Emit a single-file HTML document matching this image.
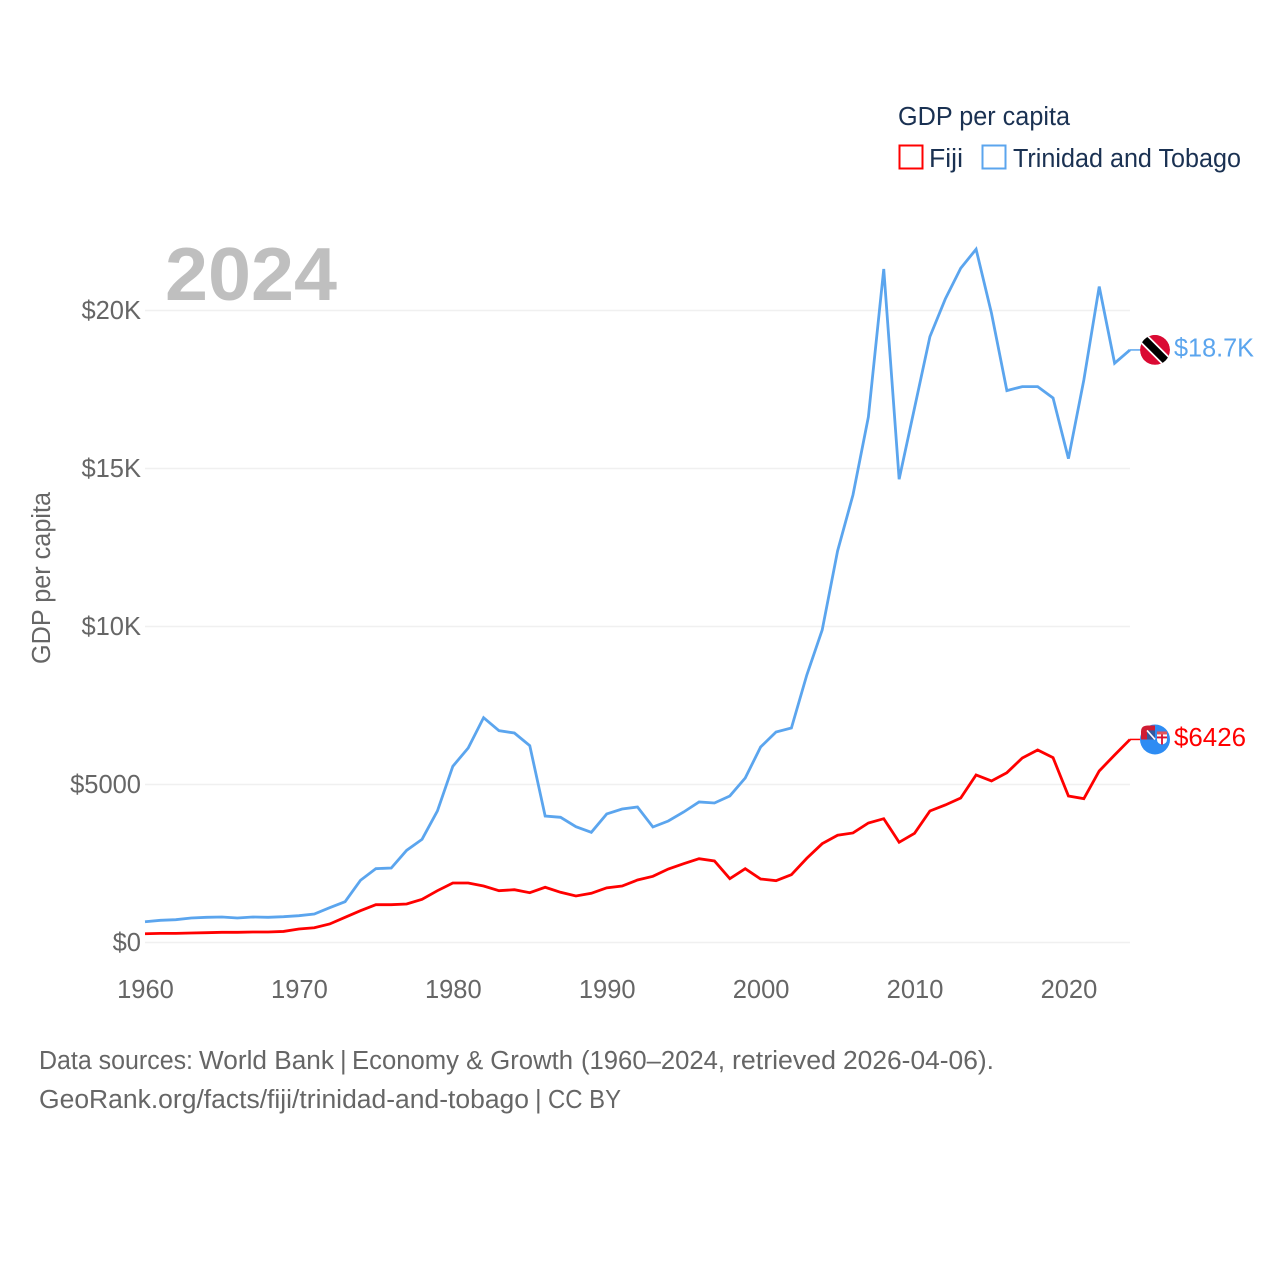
<!DOCTYPE html>
<html lang="en">
<head>
<meta charset="utf-8">
<title>GDP per capita: Fiji and Trinidad and Tobago</title>
<style>
html,body{margin:0;padding:0;background:#fff;}
svg{display:block;font-family:"Liberation Sans",Arial,sans-serif;}
.tick{font-size:25.5px;fill:#666;}
.legend{font-size:25.5px;fill:#1a3152;}
.foot{font-size:25.5px;fill:#666;}
</style>
</head>
<body>
<svg id="chart" width="1280" height="1280" viewBox="0 0 1280 1280" xmlns="http://www.w3.org/2000/svg">
  <rect width="1280" height="1280" fill="#fff"/>
  <g id="grid"></g>
  <text x="165" y="300" font-size="75" font-weight="700" fill="#bfbfbf" textLength="172" lengthAdjust="spacingAndGlyphs">2024</text>
  <g id="yticks"></g>
  <g id="xticks"></g>
  <text class="tick" transform="translate(50,664) rotate(-90)" textLength="172" lengthAdjust="spacingAndGlyphs">GDP per capita</text>
  <g id="series"></g>
  <g id="flags"></g>

  <g>
    <text class="legend" x="898" y="125" textLength="172" lengthAdjust="spacingAndGlyphs">GDP per capita</text>
    <rect x="899.5" y="145.5" width="23" height="23" fill="none" stroke="#ff0000" stroke-width="2"/>
    <text class="legend" x="929" y="167" textLength="34" lengthAdjust="spacingAndGlyphs">Fiji</text>
    <rect x="982.5" y="145.5" width="23" height="23" fill="none" stroke="#5ba5ee" stroke-width="2"/>
    <text class="legend" x="1013" y="167" textLength="228" lengthAdjust="spacingAndGlyphs">Trinidad and Tobago</text>
  </g>

  <g>
    <text class="foot" x="39" y="1069" textLength="154" lengthAdjust="spacingAndGlyphs">Data sources:</text>
    <text class="foot" x="199" y="1069" textLength="135" lengthAdjust="spacingAndGlyphs">World Bank</text>
    <text class="foot" x="340" y="1069">|</text>
    <text class="foot" x="352" y="1069" textLength="221" lengthAdjust="spacingAndGlyphs">Economy &amp; Growth</text>
    <text class="foot" x="581" y="1069" textLength="144" lengthAdjust="spacingAndGlyphs">(1960–2024,</text>
    <text class="foot" x="732" y="1069" textLength="104" lengthAdjust="spacingAndGlyphs">retrieved</text>
    <text class="foot" x="843" y="1069" textLength="151" lengthAdjust="spacingAndGlyphs">2026-04-06).</text>
  </g>
  <g>
    <text class="foot" x="39" y="1108" textLength="490" lengthAdjust="spacingAndGlyphs">GeoRank.org/facts/fiji/trinidad-and-tobago</text>
    <text class="foot" x="535" y="1108">|</text>
    <text class="foot" x="548" y="1108" textLength="73" lengthAdjust="spacingAndGlyphs">CC BY</text>
  </g>
</svg>

<script>
var startYear = 1960;
var xTickValues = [1960, 1970, 1980, 1990, 2000, 2010, 2020];
var yTickValues = [0, 5000, 10000, 15000, 20000];
var yTickLabels = ["$0", "$5000", "$10K", "$15K", "$20K"];

var fijiValues = [278,290,290,300,310,322,322,332,332,350,427,468,586,797,1006,1196,1196,1218,1367,1640,1883,1883,1788,1640,1671,1576,1747,1589,1472,1557,1730,1788,1978,2095,2326,2494,2652,2580,2019,2336,2010,1956,2146,2665,3127,3393,3466,3782,3918,3171,3456,4162,4352,4573,5301,5111,5374,5839,6093,5849,4637,4551,5428,5934,6426];
var trinidadValues = [658,702,722,775,797,807,775,807,797,817,848,902,1102,1292,1968,2336,2358,2917,3265,4162,5576,6155,7115,6703,6630,6230,4003,3962,3665,3487,4067,4225,4288,3655,3845,4130,4447,4415,4637,5206,6187,6662,6788,8465,9890,12390,14163,16630,21314,14660,16917,19173,20366,21338,21940,19914,17465,17591,17591,17233,15312,17800,20757,18332,18752];
var fijiLabel = "$6426";
var trinidadLabel = "$18.7K";

var NS = "http://www.w3.org/2000/svg";
var plotLeft = 145, plotRight = 1130, plotBottom = 942.5, pxPerYear = (plotRight - plotLeft) / 64, pxPerUnit = 158 / 5000;
function xScale(year) { return plotLeft + (year - startYear) * pxPerYear; }
function yScale(value) { return plotBottom - value * pxPerUnit; }
function make(tag, attrs, parent) {
  var el = document.createElementNS(NS, tag);
  for (var k in attrs) el.setAttribute(k, attrs[k]);
  parent.appendChild(el);
  return el;
}

var gridG = document.getElementById("grid");
var yG = document.getElementById("yticks");
var xG = document.getElementById("xticks");
var seriesG = document.getElementById("series");
var flagsG = document.getElementById("flags");

yTickValues.forEach(function (v, i) {
  var line = make("line", {x1: plotLeft, x2: plotRight, y1: yScale(v), y2: yScale(v), stroke: "#f0f0f0", "stroke-width": 1.6}, gridG);
  
  
  var t = make("text", {x: 141, y: yScale(v) + 8.5, "text-anchor": "end", "class": "tick"}, yG);
  t.textContent = yTickLabels[i];
  
  
});

xTickValues.forEach(function (yr) {
  var t = make("text", {x: xScale(yr) + 0.5, y: 998, "text-anchor": "middle", "class": "tick"}, xG);
  t.textContent = String(yr);
  
  
});

function linePoints(values) {
  return values.map(function (v, i) {
    return xScale(startYear + i).toFixed(2) + "," + yScale(v).toFixed(2);
  }).join(" ");
}

var lineFiji = make("polyline", {points: linePoints(fijiValues), fill: "none", stroke: "#ff0000", "stroke-width": 2.8, "stroke-linejoin": "miter"}, seriesG);


var lineTT = make("polyline", {points: linePoints(trinidadValues), fill: "none", stroke: "#5ba5ee", "stroke-width": 2.8, "stroke-linejoin": "miter"}, seriesG);



var lastFijiY = yScale(fijiValues[fijiValues.length - 1]);
var lastTTY = yScale(trinidadValues[trinidadValues.length - 1]);

var connF = make("line", {x1: plotRight, x2: 1140, y1: lastFijiY, y2: lastFijiY, stroke: "#ff0000", "stroke-width": 1.5}, seriesG);


var connT = make("line", {x1: plotRight, x2: 1140, y1: lastTTY, y2: lastTTY, stroke: "#5ba5ee", "stroke-width": 1.5}, seriesG);



/* Trinidad and Tobago flag */
var ttFlag = make("g", {transform: "translate(1155," + lastTTY + ")"}, flagsG);


var defs = make("defs", {}, ttFlag);
var clip = make("clipPath", {id: "ttClip"}, defs);
make("circle", {r: 15}, clip);
var ttInner = make("g", {"clip-path": "url(#ttClip)"}, ttFlag);
make("circle", {r: 15, fill: "#da0a33"}, ttInner);
make("line", {x1: -16, y1: -16, x2: 16, y2: 16, stroke: "#ffffff", "stroke-width": 11}, ttInner);
make("line", {x1: -16, y1: -16, x2: 16, y2: 16, stroke: "#000000", "stroke-width": 7.5}, ttInner);

/* Fiji flag */
var fjFlag = make("g", {transform: "translate(1155," + lastFijiY + ")"}, flagsG);


make("circle", {r: 15, fill: "#2e8cf3"}, fjFlag);
make("path", {d: "M-14,0 V-8 Q-14,-14 -7,-14 H0 V0 Z", fill: "#d01c34"}, fjFlag);
make("rect", {x: -8, y: -9, width: 8, height: 9, fill: "#35589f"}, fjFlag);
make("path", {d: "M-8,-9 L0,0", stroke: "#ffffff", "stroke-width": 1.6}, fjFlag);
make("path", {d: "M2,-8 H12 V0 Q12,4 7,5 Q2,4 2,0 Z", fill: "#ffffff"}, fjFlag);
make("path", {d: "M7,-8 V5 M2,-2 H12", stroke: "#d8112f", "stroke-width": 1.8}, fjFlag);
make("rect", {x: 2, y: -8, width: 10, height: 3, fill: "#e0555f"}, fjFlag);

var labelT = make("text", {x: 1174, y: lastTTY + 6.5, "font-size": 25.5, fill: "#5ba5ee", textLength: 80, lengthAdjust: "spacingAndGlyphs"}, flagsG);
labelT.textContent = trinidadLabel;


var labelF = make("text", {x: 1174, y: lastFijiY + 6.5, "font-size": 25.5, fill: "#ff0000", textLength: 72, lengthAdjust: "spacingAndGlyphs"}, flagsG);
labelF.textContent = fijiLabel;


</script>
</body>
</html>
